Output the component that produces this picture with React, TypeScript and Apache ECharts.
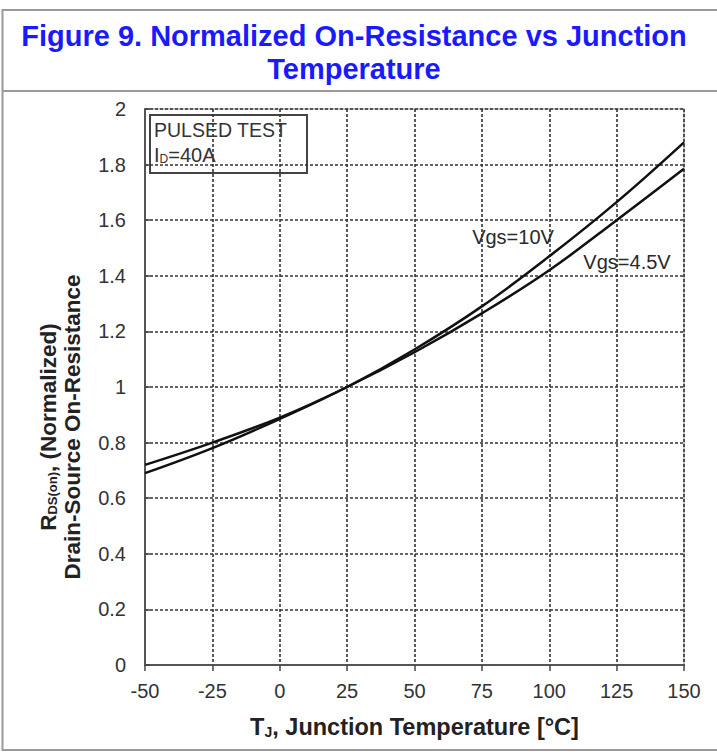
import React, { useEffect, useRef } from "react";
import * as echarts from "echarts";

const temps = [-50, -25, 0, 25, 50, 75, 100, 125, 150];
const vgs10 = [0.69, 0.78, 0.885, 1.0, 1.135, 1.29, 1.47, 1.665, 1.88];
const vgs45 = [0.72, 0.8, 0.89, 1.0, 1.125, 1.265, 1.42, 1.6, 1.785];
const yTicks = [0, 0.2, 0.4, 0.6, 0.8, 1, 1.2, 1.4, 1.6, 1.8, 2];

const FONT = "'Liberation Sans', Arial, Helvetica, sans-serif";

export default function App() {
  const ref = useRef<HTMLDivElement>(null);
  useEffect(() => {
    if (!ref.current) return;
    const chart = echarts.init(ref.current, null, { renderer: "svg" });
    const s10 = temps.map((t, i) => [t, vgs10[i]]);
    const s45 = temps.map((t, i) => [t, vgs45[i]]);
    const gridLine = { show: true, lineStyle: { color: "#333", width: 1.6, type: [3, 2] as any } };
    chart.setOption({
      animation: false,
      backgroundColor: "#ffffff",
      textStyle: { fontFamily: FONT },
      grid: { left: 145, right: 33, top: 109, bottom: 87, show: true, borderColor: "#b0b0b0", borderWidth: 1.5 },
      xAxis: [
        {
          type: "value",
          min: -50,
          max: 150,
          interval: 25,
          axisLine: { show: true, onZero: false, lineStyle: { color: "#555", width: 2 } },
          axisTick: { show: false },
          splitLine: gridLine,
          axisLabel: { color: "#333", fontSize: 20, margin: 16, fontFamily: FONT },
          name: "{b|T}{sub|J}{b|, Junction Temperature [°C]}",
          nameLocation: "middle",
          nameGap: 50,
          nameTextStyle: {
            padding: [0, 0, 0, 0],
            rich: {
              b: { fontSize: 23.5, fontWeight: "bold", color: "#222", fontFamily: FONT },
              sub: { fontSize: 14, fontWeight: "bold", color: "#222", fontFamily: FONT, padding: [10, 0, 0, 0] },
            },
          },
        },
        {
          type: "value",
          position: "top",
          min: -50,
          max: 150,
          interval: 25,
          axisLine: { show: false },
          axisTick: { show: true, inside: true, length: 6, lineStyle: { color: "#444", width: 1.5 } },
          axisLabel: { show: false },
          splitLine: { show: false },
        },
      ],
      yAxis: {
        type: "value",
        min: 0,
        max: 2,
        interval: 0.2,
        axisLine: { show: true, onZero: false, lineStyle: { color: "#555", width: 2 } },
        axisTick: { show: true, inside: true, length: 5, lineStyle: { color: "#444", width: 1.5 } },
        splitLine: gridLine,
        axisLabel: {
          color: "#333",
          fontSize: 20,
          margin: 19,
          fontFamily: FONT,
          formatter: (v: number) => {
            const found = yTicks.find((t) => Math.abs(t - v) < 1e-6);
            return found === undefined ? "" : String(Number(found.toFixed(1)));
          },
        },
      },
      graphic: [
        { type: "rect", shape: { x: 2.5, y: 10, width: 720, height: 740 }, style: { fill: "none", stroke: "#9a9a9a", lineWidth: 2 }, silent: true, z: 100 },
        { type: "line", shape: { x1: 2, y1: 91, x2: 717, y2: 91 }, style: { stroke: "#9a9a9a", lineWidth: 2 }, silent: true, z: 100 },
        {
          type: "text",
          x: 354,
          y: 36,
          style: { text: "Figure 9. Normalized On-Resistance vs Junction", fill: "#1a1aff", font: `bold 29px ${FONT}`, align: "center", verticalAlign: "middle" },
          z: 100,
        },
        {
          type: "text",
          x: 354,
          y: 69,
          style: { text: "Temperature", fill: "#1a1aff", font: `bold 29px ${FONT}`, align: "center", verticalAlign: "middle" },
          z: 100,
        },
        {
          type: "text",
          x: 60,
          y: 427,
          rotation: Math.PI / 2,
          z: 100,
          style: {
            text: "{b|R}{s|DS(on)}{b|, (Normalized)}\n{b|Drain-Source On-Resistance}",
            align: "center",
            verticalAlign: "middle",
            rich: {
              b: { fontSize: 22.5, fontWeight: "bold", fill: "#222", fontFamily: FONT, lineHeight: 24 },
              s: { fontSize: 13, fontWeight: "bold", fill: "#222", fontFamily: FONT, lineHeight: 24, padding: [9, 0, 0, 0] },
            },
          },
        },
        {
          type: "group",
          x: 150,
          y: 115,
          z: 100,
          children: [
            { type: "rect", shape: { x: 0, y: 0, width: 157, height: 58 }, style: { fill: "#fff", stroke: "#444", lineWidth: 2 } },
            { type: "text", x: 4, y: 15, style: { text: "PULSED TEST", font: `19.5px ${FONT}`, fill: "#333", verticalAlign: "middle" } },
            {
              type: "text",
              x: 4,
              y: 40,
              style: {
                text: "{a|I}{s|D}{a|=40A}",
                verticalAlign: "middle",
                rich: {
                  a: { fontSize: 20, fontFamily: FONT, fill: "#333" },
                  s: { fontSize: 12, fontFamily: FONT, fill: "#333", padding: [8, 0, 0, 0] },
                },
              },
            },
          ],
        },
        { type: "text", x: 513, y: 237, z: 100, style: { text: "Vgs=10V", font: `20px ${FONT}`, fill: "#2a2a2a", align: "center", verticalAlign: "middle" } },
        { type: "text", x: 627, y: 262, z: 100, style: { text: "Vgs=4.5V", font: `20px ${FONT}`, fill: "#2a2a2a", align: "center", verticalAlign: "middle" } },
      ],
      series: [
        {
          name: "Vgs=10V",
          type: "line",
          data: s10,
          smooth: 0.4,
          showSymbol: false,
          lineStyle: { color: "#111", width: 2.5 },
          z: 5,
        },
        {
          name: "Vgs=4.5V",
          type: "line",
          data: s45,
          smooth: 0.4,
          showSymbol: false,
          lineStyle: { color: "#111", width: 2.5 },
          z: 5,
        },
      ],
    });
    return () => chart.dispose();
  }, []);
  return <div ref={ref} style={{ position: "absolute", left: 0, top: 0, width: 717, height: 752, background: "#fff" }} />;
}
